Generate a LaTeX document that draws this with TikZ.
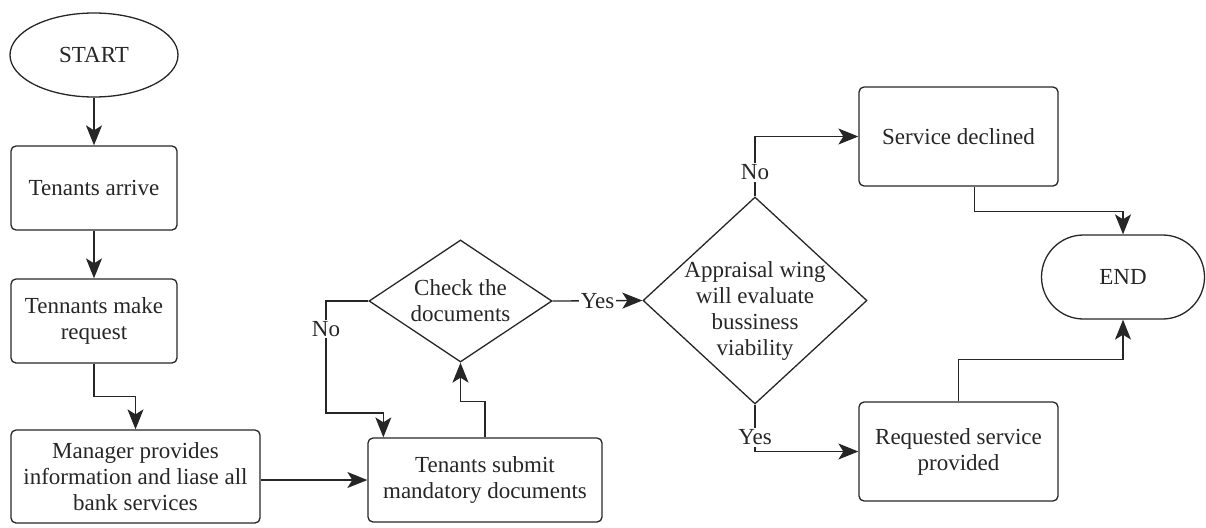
\documentclass[tikz,border=0pt]{standalone}
\usepackage{fontspec}
\setmainfont{Liberation Serif}
\usetikzlibrary{shapes.geometric,arrows.meta,calc}

\begin{document}
\begin{tikzpicture}[x=1pt,y=-1pt,
  every node/.style={font=\fontsize{23}{26}\selectfont, text=black!85},
  proc/.style={draw=black!85, line width=1.3pt, rounded corners=5pt, inner sep=0pt, align=center},
  dec/.style={draw=black!85, line width=1.3pt, diamond, inner sep=0pt},
  term/.style={draw=black!85, line width=1.3pt, ellipse, inner sep=0pt},
  txt/.style={align=center, inner sep=0pt},
  tip/.tip={Stealth[length=20pt,width=16pt,inset=5pt]},
  flow/.style={draw=black!85, line width=1.3pt, arrows={-tip}},
  lbl/.style={fill=white, inner sep=1.5pt}
]
\useasboundingbox (0,0) rectangle (1206,527);

% left column
\node[term, minimum width=168pt, minimum height=84pt] (start) at (94,55) {START};
\node[proc, minimum width=166pt, minimum height=84pt] (arrive) at (94,188) {Tenants arrive};
\node[proc, minimum width=166pt, minimum height=84pt] (request) at (94,321) {Tennants make\\request};
\node[proc, minimum width=249pt, minimum height=93pt] (manager) at (135.5,476.5)
  {Manager provides\\information and liase all\\bank services};

% document check
\node[proc, minimum width=234pt, minimum height=84pt] (submit) at (485,480) {Tenants submit\\mandatory documents};
\node[dec, minimum width=183pt, minimum height=122pt] (check) at (460.5,301) {};
\node[txt] (checktxt) at (check) {Check the\\documents};

% appraisal
\node[dec, minimum width=224pt, minimum height=207pt] (appr) at (755,300.5) {};
\node[txt] (apprtxt) at (755,311) {Appraisal wing\\will evaluate\\bussiness\\viability};

% outcomes
\node[proc, minimum width=199pt, minimum height=99pt] (declined) at (958.5,136.5) {Service declined};
\node[proc, minimum width=199pt, minimum height=99pt] (provided) at (958.5,451.5) {Requested service\\provided};
\node[draw=black!85, line width=1.3pt, rounded corners=42pt, minimum width=163pt, minimum height=84pt] (end) at (1123,277) {END};

% connectors
\draw[flow] (start.south) -- (arrive.north);
\draw[flow] (arrive) -- (request);
\draw[flow] (request.south) -- ++(0,33) -| (manager.north);
\draw[flow] (manager.east |- submit) -- (submit.west);
\draw[flow] (submit.north) -- ++(0,-36) -| (check.south);
\coordinate (noback) at (326,413);
\draw[flow] (check.west) -| node[pos=0.625, lbl] {No} (noback) -| ($(submit.north west)+(16,0)$);
\draw[flow] (check.east) -- node[lbl] {Yes} (appr.west);
\draw[flow] (appr.north) |- node[pos=0.2, lbl] {No} (declined.west);
\draw[flow] (appr.south) |- node[pos=0.35, lbl] {Yes} (provided.west);
\draw[flow] ($(declined.south)+(16,0)$) -- ++(0,25) -| (end.north);
\draw[flow] (provided.north) -- ++(0,-42) -| (end.south);
\end{tikzpicture}
\end{document}
